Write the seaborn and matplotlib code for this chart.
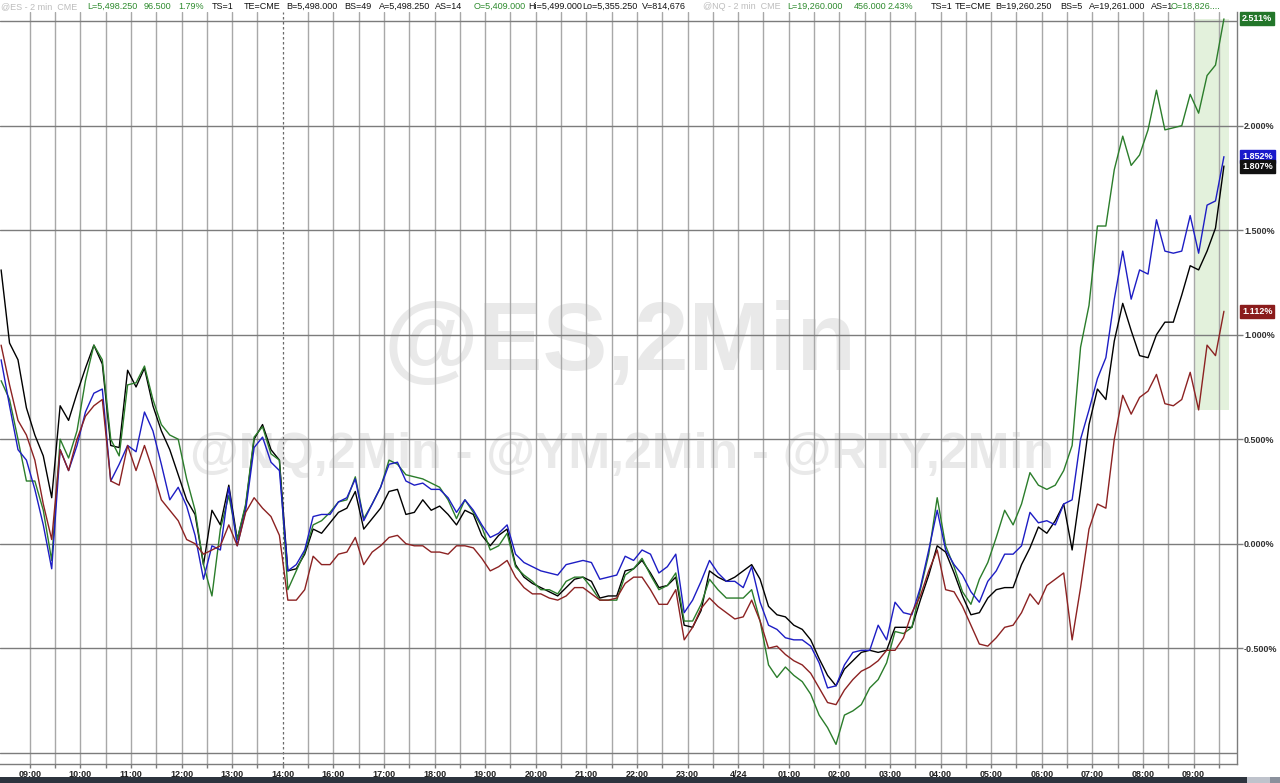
import numpy as np
import pandas as pd
import matplotlib
matplotlib.use("Agg")
import matplotlib.pyplot as plt
import seaborn as sns
from matplotlib.patches import Rectangle

# ---------------- data ----------------
hour_labels = ["09:00", "10:00", "11:00", "12:00", "13:00", "14:00", "16:00", "17:00",
               "18:00", "19:00", "20:00", "21:00", "22:00", "23:00", "4/24", "01:00",
               "02:00", "03:00", "04:00", "05:00", "06:00", "07:00", "08:00", "09:00"]
session_break = 5          # position of the dashed session line (hour slot)
first_slot = -0.567        # first sample, in hour slots relative to 09:00
step_slot = 1 / 6          # one sample every 10 minutes

es = [1.31, 0.96, 0.88, 0.65, 0.52, 0.42, 0.22, 0.66, 0.59, 0.72,
      0.84, 0.95, 0.86, 0.47, 0.46, 0.83, 0.75, 0.84, 0.66, 0.54,
      0.45, 0.33, 0.21, 0.14, -0.10, 0.16, 0.09, 0.28, 0.02, 0.18,
      0.50, 0.57, 0.45, 0.40, -0.13, -0.12, -0.05, 0.07, 0.05, 0.10,
      0.15, 0.17, 0.25, 0.07, 0.12, 0.17, 0.25, 0.26, 0.14, 0.15,
      0.21, 0.16, 0.18, 0.14, 0.09, 0.16, 0.14, 0.04, -0.01, 0.04,
      0.07, -0.10, -0.16, -0.19, -0.21, -0.23, -0.25, -0.21, -0.17, -0.16,
      -0.18, -0.26, -0.25, -0.25, -0.13, -0.12, -0.08, -0.14, -0.21, -0.20,
      -0.16, -0.39, -0.40, -0.32, -0.13, -0.16, -0.18, -0.16, -0.13, -0.10,
      -0.17, -0.30, -0.34, -0.35, -0.39, -0.41, -0.46, -0.55, -0.63, -0.68,
      -0.60, -0.56, -0.52, -0.51, -0.52, -0.51, -0.40, -0.40, -0.40, -0.27,
      -0.15, -0.01, -0.04, -0.14, -0.25, -0.34, -0.33, -0.26, -0.22, -0.21,
      -0.21, -0.10, -0.02, 0.08, 0.05, 0.11, 0.19, -0.03, 0.26, 0.57,
      0.74, 0.69, 0.97, 1.15, 1.02, 0.90, 0.89, 1.00, 1.06, 1.06,
      1.19, 1.33, 1.31, 1.40, 1.51, 1.807]

nq = [0.78, 0.69, 0.50, 0.30, 0.30, 0.16, -0.08, 0.50, 0.41, 0.54,
      0.78, 0.95, 0.88, 0.50, 0.42, 0.76, 0.77, 0.85, 0.69, 0.57,
      0.52, 0.50, 0.31, 0.16, -0.10, -0.25, 0.07, 0.23, 0.02, 0.19,
      0.51, 0.56, 0.43, 0.40, -0.22, -0.13, -0.04, 0.09, 0.11, 0.15,
      0.20, 0.21, 0.32, 0.12, 0.19, 0.27, 0.40, 0.38, 0.33, 0.32,
      0.31, 0.29, 0.27, 0.21, 0.12, 0.21, 0.15, 0.08, -0.03, -0.01,
      0.05, -0.11, -0.15, -0.18, -0.22, -0.22, -0.24, -0.18, -0.16, -0.16,
      -0.21, -0.27, -0.27, -0.27, -0.15, -0.12, -0.07, -0.15, -0.22, -0.20,
      -0.14, -0.37, -0.37, -0.29, -0.17, -0.22, -0.26, -0.26, -0.26, -0.22,
      -0.37, -0.58, -0.64, -0.59, -0.63, -0.66, -0.72, -0.82, -0.88, -0.96,
      -0.82, -0.80, -0.77, -0.69, -0.65, -0.57, -0.42, -0.43, -0.40, -0.22,
      -0.05, 0.22, -0.01, -0.11, -0.23, -0.29, -0.17, -0.09, 0.03, 0.16,
      0.09, 0.19, 0.34, 0.28, 0.26, 0.28, 0.35, 0.47, 0.94, 1.14,
      1.52, 1.52, 1.79, 1.95, 1.81, 1.86, 1.98, 2.17, 1.98, 1.99,
      2.00, 2.15, 2.06, 2.24, 2.29, 2.511]

ym = [0.88, 0.66, 0.45, 0.40, 0.26, 0.09, -0.12, 0.45, 0.35, 0.47,
      0.63, 0.72, 0.74, 0.30, 0.38, 0.47, 0.44, 0.63, 0.54, 0.38,
      0.21, 0.27, 0.18, 0.04, -0.17, -0.01, -0.03, 0.27, -0.01, 0.16,
      0.46, 0.51, 0.39, 0.35, -0.13, -0.10, -0.03, 0.13, 0.14, 0.14,
      0.20, 0.22, 0.31, 0.11, 0.19, 0.27, 0.38, 0.39, 0.30, 0.28,
      0.29, 0.26, 0.26, 0.22, 0.15, 0.21, 0.16, 0.09, 0.03, 0.05,
      0.09, -0.05, -0.09, -0.11, -0.13, -0.14, -0.15, -0.10, -0.09, -0.08,
      -0.09, -0.17, -0.16, -0.15, -0.06, -0.08, -0.03, -0.05, -0.14, -0.11,
      -0.05, -0.33, -0.27, -0.18, -0.08, -0.14, -0.18, -0.18, -0.21, -0.11,
      -0.28, -0.39, -0.41, -0.45, -0.46, -0.46, -0.49, -0.57, -0.69, -0.68,
      -0.58, -0.52, -0.51, -0.51, -0.39, -0.46, -0.28, -0.33, -0.34, -0.21,
      -0.03, 0.16, -0.03, -0.10, -0.15, -0.23, -0.28, -0.18, -0.13, -0.05,
      -0.05, -0.01, 0.15, 0.10, 0.11, 0.09, 0.19, 0.21, 0.50, 0.64,
      0.79, 0.89, 1.17, 1.40, 1.17, 1.31, 1.29, 1.55, 1.40, 1.39,
      1.40, 1.57, 1.39, 1.62, 1.64, 1.852]

rty = [0.95, 0.76, 0.59, 0.52, 0.40, 0.19, 0.02, 0.45, 0.35, 0.50,
       0.61, 0.66, 0.69, 0.30, 0.28, 0.47, 0.35, 0.47, 0.35, 0.21,
       0.16, 0.11, 0.02, 0.00, -0.05, -0.03, -0.01, 0.09, -0.01, 0.15,
       0.22, 0.17, 0.13, 0.04, -0.27, -0.27, -0.22, -0.06, -0.10, -0.10,
       -0.05, -0.04, 0.03, -0.10, -0.04, -0.01, 0.03, 0.04, 0.00, -0.01,
       -0.01, -0.04, -0.04, -0.05, -0.01, -0.01, -0.02, -0.07, -0.13, -0.11,
       -0.08, -0.16, -0.21, -0.24, -0.24, -0.26, -0.27, -0.25, -0.21, -0.21,
       -0.24, -0.27, -0.27, -0.26, -0.19, -0.16, -0.16, -0.22, -0.29, -0.29,
       -0.22, -0.46, -0.40, -0.31, -0.26, -0.30, -0.33, -0.36, -0.35, -0.27,
       -0.37, -0.50, -0.49, -0.53, -0.56, -0.58, -0.62, -0.69, -0.76, -0.77,
       -0.70, -0.65, -0.61, -0.59, -0.56, -0.51, -0.51, -0.45, -0.33, -0.25,
       -0.13, -0.03, -0.22, -0.23, -0.30, -0.39, -0.48, -0.49, -0.45, -0.40,
       -0.39, -0.33, -0.24, -0.29, -0.20, -0.17, -0.14, -0.46, -0.21, 0.07,
       0.19, 0.17, 0.50, 0.71, 0.62, 0.70, 0.73, 0.81, 0.67, 0.66,
       0.69, 0.82, 0.64, 0.95, 0.90, 1.112]

series_names = ["ES", "NQ", "YM", "RTY"]
series_colors = ["#000000", "#2b7d2b", "#1d1dc4", "#8c2222"]
tag_colors = ["#111111", "#23762a", "#1a1acc", "#8a1c1c"]

header_items = [
    (1, "@ES - 2 min  CME", "#bdbdbd"), (87, "L=5,498.250", "#2e8b2e"),
    (144, "96.500", "#2e8b2e"), (178, "1.79%", "#2e8b2e"), (212, "TS=1", "#111111"),
    (244, "TE=CME", "#111111"), (286, "B=5,498.000", "#111111"), (344, "BS=49", "#111111"),
    (379, "A=5,498.250", "#111111"), (435, "AS=14", "#111111"), (474, "O=5,409.000", "#2e8b2e"),
    (528, "Hi=5,499.000", "#111111"), (582, "Lo=5,355.250", "#111111"), (642, "V=814,676", "#111111"),
    (703, "@NQ - 2 min  CME", "#bdbdbd"), (787, "L=19,260.000", "#2e8b2e"),
    (854, "456.000", "#2e8b2e"), (888, "2.43%", "#2e8b2e"), (931, "TS=1", "#111111"),
    (955, "TE=CME", "#111111"), (995, "B=19,260.250", "#111111"), (1060, "BS=5", "#111111"),
    (1089, "A=19,261.000", "#111111"), (1151, "AS=1", "#111111"), (1171, "O=18,826....", "#2e8b2e"),
]

# ---------------- figure ----------------
sns.set_theme(style="white")
plt.rcParams['font.family'] = ['Liberation Sans', 'DejaVu Sans']

W, H = 1280, 783
fig = plt.figure(figsize=(W / 100, H / 100), dpi=100)
fig.patch.set_facecolor("white")
ax_left, ax_right, ax_top, ax_bot = 0, 1237, 12, 764
ax = fig.add_axes([ax_left / W, (H - ax_bot) / H, (ax_right - ax_left) / W, (ax_bot - ax_top) / H])
ax.set_facecolor("white")

n = len(es)
t = first_slot + np.arange(n) * step_slot
df = pd.DataFrame({"t": t, "ES": es, "NQ": nq, "YM": ym, "RTY": rty})

ax.set_xlim(-0.589, 23.858)
ax.set_ylim(-1.054, 2.544)

# highlight box over the last hour (range of all series since 09:00)
recent = df[df["t"] >= 23.0]
lo = recent[series_names].min().min()
hi = recent[series_names].max().max()
ax.add_patch(Rectangle((23.0, lo), t[-1] + 0.1 - 23.0, hi - lo,
                       facecolor="#e3f1dc", edgecolor="none", zorder=0.8))

# watermarks
ax.text(0.501, 0.557, "@ES,2Min", transform=ax.transAxes, ha="center", va="center",
        fontsize=70, fontweight="bold", color="#e9e9e9", zorder=0.5)
ax.text(0.503, 0.411, "@NQ,2Min - @YM,2Min - @RTY,2Min", transform=ax.transAxes,
        ha="center", va="center", fontsize=36, fontweight="bold", color="#e9e9e9", zorder=0.5)

# grid
for h in np.arange(0, 24, 0.5):
    if h == session_break:
        ax.axvline(h, color="#6a6a6a", lw=0.9, ls=(0, (2, 2)), zorder=1)
    else:
        ax.axvline(h, color="#a8a8a8", lw=1.0, zorder=1)
for v in np.arange(-1.0, 2.51, 0.5):
    ax.axhline(v, color="#7c7c7c", lw=1.0, zorder=1)

# series
for name, col in zip(series_names, series_colors):
    sns.lineplot(data=df, x="t", y=name, color=col, lw=1.0, ax=ax,
                 estimator=None, legend=False, zorder=2)

ax.set_xlabel("")
ax.set_ylabel("")

# axes / ticks
for s in ["left", "top"]:
    ax.spines[s].set_visible(False)
for s in ["right", "bottom"]:
    ax.spines[s].set_color("#7c7c7c")
    ax.spines[s].set_linewidth(1.0)

ax.yaxis.tick_right()
yt = np.arange(-0.5, 2.01, 0.5)
ax.set_yticks(yt)
ax.set_yticklabels([f"{v:.3f}%" for v in yt])
ax.tick_params(axis="y", which="both", right=True, left=False, length=4, width=1.0,
               color="#7c7c7c", pad=1, labelsize=6.5, labelcolor="#333333")
ax.set_xticks(range(len(hour_labels)))
ax.set_xticklabels(hour_labels)
ax.set_xticks(np.arange(0.5, 24, 1.0), minor=True)
ax.tick_params(axis="x", which="both", bottom=True, length=3, width=1.0, color="#7c7c7c",
               pad=1.5, labelsize=6.5, labelcolor="#222222")
for lab in ax.get_xticklabels() + ax.get_yticklabels():
    lab.set_fontweight("bold")

# last value tags
last_vals = [es[-1], nq[-1], ym[-1], rty[-1]]
order = [1, 2, 3, 0]  # NQ, YM, RTY, then ES on top
for i in order:
    ax.text(1.004, last_vals[i], f"{last_vals[i]:.3f}%", transform=ax.get_yaxis_transform(),
            ha="left", va="center", fontsize=6.5, fontweight="bold", color="white",
            bbox=dict(boxstyle="square,pad=0.22", fc=tag_colors[i], ec=tag_colors[i]),
            clip_on=False, zorder=6)

# header line
for x_px, txt, col in header_items:
    fig.text(x_px / W, 1 - 6.5 / H, txt, ha="left", va="center", fontsize=6.5, color=col)

# bottom status bar
fig.patches.append(Rectangle((0, 0), 1, 6 / H, transform=fig.transFigure,
                             facecolor="#2d343e", edgecolor="none"))
fig.patches.append(Rectangle((1247 / W, 0), 23 / W, 6 / H, transform=fig.transFigure,
                             facecolor="#bfc3cc", edgecolor="none"))
fig.patches.append(Rectangle((1270 / W, 0), 10 / W, 6 / H, transform=fig.transFigure,
                             facecolor="#8a909c", edgecolor="none"))

fig.savefig("out.png", dpi=100)
